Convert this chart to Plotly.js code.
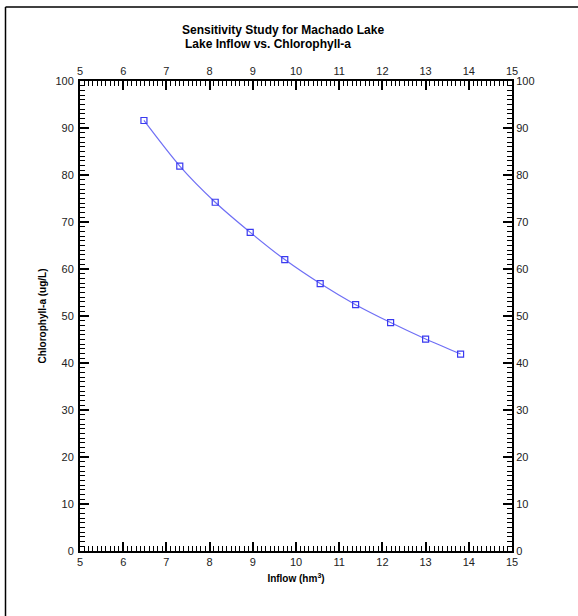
<!DOCTYPE html>
<html>
<head>
<meta charset="utf-8">
<script src="https://cdn.plot.ly/plotly-3.0.1.min.js"></script>
<style>
html,body{margin:0;padding:0;background:#fff;}
#chart{width:578px;height:616px;}
</style>
</head>
<body>
<div id="chart"></div>
<script>
// Data
var inflow = [6.48, 7.31, 8.13, 8.94, 9.74, 10.56, 11.38, 12.19, 13.0, 13.81];
var chlorophyll = [91.6, 81.9, 74.2, 67.8, 62.0, 56.9, 52.4, 48.6, 45.1, 41.9];
var titleLine1 = "Sensitivity Study for Machado Lake";
var titleLine2 = "Lake Inflow vs. Chlorophyll-a";
var xTitle = "<b>Inflow (hm<sup>3</sup>)</b>";
var yTitle = "<b>Chlorophyll-a (ug/L)</b>";

var fontFam = "Liberation Sans, Arial, sans-serif";
var tickFont = {family: fontFam, size: 11, color: "#222"};

function axisBase(extra) {
  var a = {
    showgrid: false, zeroline: false, showline: true,
    linecolor: "#000", linewidth: 2,
    ticks: "inside", ticklen: 9, tickwidth: 2, tickcolor: "#000",
    tickfont: tickFont, fixedrange: true
  };
  for (var k in extra) a[k] = extra[k];
  return a;
}

var trace = {
  x: inflow, y: chlorophyll,
  type: "scatter", mode: "lines+markers",
  line: {color: "#6f6ff5", width: 1.2, shape: "spline", smoothing: 0.8},
  marker: {symbol: "square-open", size: 6, color: "#3a3af0", line: {width: 1.2, color: "#3a3af0"}},
  hoverinfo: "skip", showlegend: false
};

var layout = {
  width: 578, height: 616,
  margin: {l: 80, r: 66, t: 81, b: 65},
  paper_bgcolor: "#fff", plot_bgcolor: "#fff",
  showlegend: false,
  xaxis: axisBase({
    range: [5, 15], tick0: 5, dtick: 1, side: "bottom",
    minor: {dtick: 0.1, ticks: "inside", ticklen: 5, tickwidth: 1, tickcolor: "#000"},
    title: {text: xTitle, font: {family: fontFam, size: 10, color: "#000"}, standoff: 8}
  }),
  xaxis2: axisBase({
    range: [5, 15], tick0: 5, dtick: 1, side: "top", overlaying: "x",
    minor: {dtick: 0.1, ticks: "inside", ticklen: 5, tickwidth: 1, tickcolor: "#000"}
  }),
  yaxis: axisBase({
    range: [0, 100], tick0: 0, dtick: 10, side: "left", ticklabelstandoff: 2,
    minor: {dtick: 1, ticks: "inside", ticklen: 5, tickwidth: 1, tickcolor: "#000"},
    title: {text: yTitle, font: {family: fontFam, size: 10, color: "#000"}, standoff: 7}
  }),
  yaxis2: axisBase({
    range: [0, 100], tick0: 0, dtick: 10, side: "right", overlaying: "y",
    minor: {dtick: 1, ticks: "inside", ticklen: 5, tickwidth: 1, tickcolor: "#000"}
  }),
  annotations: [
    {text: "<b>" + titleLine1 + "</b>", xref: "paper", yref: "paper",
     x: (180 - 80) / 432, y: (551 - 30) / 470, xanchor: "left", yanchor: "middle",
     showarrow: false, font: {family: fontFam, size: 12, color: "#000"}},
    {text: "<b>" + titleLine2 + "</b>", xref: "paper", yref: "paper",
     x: (183 - 80) / 432, y: (551 - 44) / 470, xanchor: "left", yanchor: "middle",
     showarrow: false, font: {family: fontFam, size: 12, color: "#000"}}
  ],
  shapes: [
    {type: "line", xref: "paper", yref: "paper",
     x0: (5.5 - 80) / 432, x1: (578 - 80) / 432, y0: (551 - 7) / 470, y1: (551 - 7) / 470,
     line: {color: "#000", width: 1.5}},
    {type: "line", xref: "paper", yref: "paper",
     x0: (5.5 - 80) / 432, x1: (5.5 - 80) / 432, y0: (551 - 7) / 470, y1: (551 - 616) / 470,
     line: {color: "#000", width: 1.5}}
  ]
};

var trace2 = {x: [5], y: [0], xaxis: "x2", yaxis: "y2", mode: "markers",
  marker: {opacity: 0}, hoverinfo: "skip", showlegend: false, type: "scatter"};

Plotly.newPlot("chart", [trace, trace2], layout, {staticPlot: true, displayModeBar: false});
</script>
</body>
</html>
